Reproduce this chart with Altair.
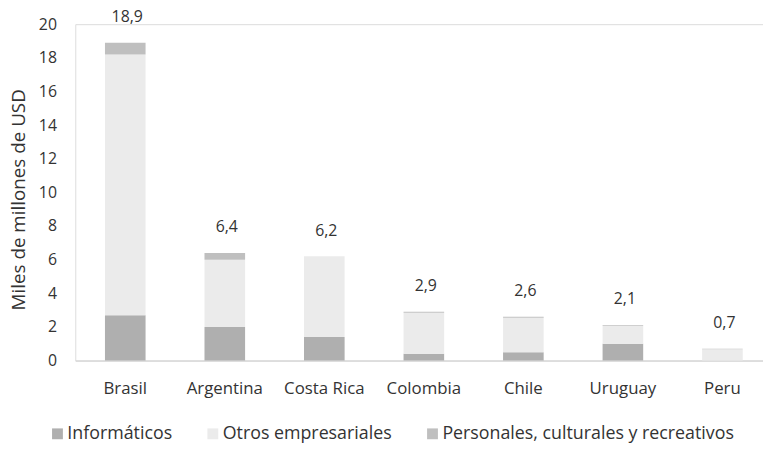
import altair as alt
import pandas as pd

countries = ["Brasil", "Argentina", "Costa Rica", "Colombia", "Chile", "Uruguay", "Peru"]
series = ["Informáticos", "Otros empresariales", "Personales, culturales y recreativos"]
informaticos = [2.7, 2.0, 1.4, 0.4, 0.5, 1.0, 0.0]
otros = [15.5, 4.0, 4.8, 2.45, 2.05, 1.05, 0.67]
personales = [0.7, 0.4, 0.0, 0.05, 0.05, 0.05, 0.03]
totals = [18.9, 6.4, 6.2, 2.9, 2.6, 2.1, 0.7]
colors = ["#afafaf", "#ebebeb", "#bfbfbf"]
y_ticks = [0, 2, 4, 6, 8, 10, 12, 14, 16, 18, 20]

rows = []
for i, c in enumerate(countries):
    for k, (s, vals) in enumerate(zip(series, [informaticos, otros, personales])):
        rows.append({"pais": c, "serie": s, "valor": vals[i], "orden": k})
df = pd.DataFrame(rows)
tot = pd.DataFrame({"pais": countries, "total": totals})

FONT = "Open Sans"
TXT = "#333333"

xscale = alt.Scale(paddingInner=0.592, paddingOuter=0.251, align=0.594)
xaxis = alt.Axis(labelAngle=0, labelFont=FONT, labelFontSize=17, labelColor=TXT,
                 ticks=False, labelPadding=20, domainColor="#d9d9d9", domainWidth=1.5)
yscale = alt.Scale(domain=[0, 20], nice=False)
yaxis = alt.Axis(values=y_ticks, grid=False, domain=False, ticks=False,
                 labelOverlap=False,
                 labelFont=FONT, labelFontSize=16, labelColor=TXT, labelPadding=19,
                 title="Miles de millones de USD", titleFont=FONT, titleFontSize=19,
                 titleFontWeight="normal", titleColor=TXT, titleX=-57, titleY=177,
                 titleAngle=270, titleAlign="center", titleBaseline="middle")

bars = alt.Chart(df).mark_bar().encode(
    x=alt.X("pais:N", sort=countries, title=None, scale=xscale, axis=xaxis),
    y=alt.Y("valor:Q", stack="zero", title="Miles de millones de USD", scale=yscale, axis=yaxis),
    color=alt.Color("serie:N", sort=series,
                    scale=alt.Scale(domain=series, range=colors),
                    legend=alt.Legend(title=None, orient="none", direction="horizontal", columns=3,
                                      legendX=-27, legendY=405, symbolType="square", symbolSize=120,
                                      symbolStrokeWidth=0, labelFont=FONT, labelFontSize=18,
                                      labelColor=TXT, labelOffset=1, columnPadding=32,
                                      labelLimit=500)),
    order=alt.Order("orden:Q", sort="ascending"),
)

labels = alt.Chart(tot).transform_calculate(
    lab="replace(format(datum.total, '.1f'), '.', ',')"
).mark_text(font=FONT, fontSize=16, color=TXT, baseline="middle", dy=-26, dx=2).encode(
    x=alt.X("pais:N", sort=countries, title=None, scale=xscale, axis=xaxis),
    y=alt.Y("total:Q", title="Miles de millones de USD", scale=yscale, axis=yaxis),
    text="lab:N",
)

chart = alt.layer(bars, labels).properties(
    width=695, height=340,
    autosize=alt.AutoSizeParams(type="none"),
    padding={"left": 68, "top": 14, "right": 0, "bottom": 87},
).configure_view(stroke=None).configure(background="white").configure_axis(labelOverlap=False)

chart.save("out.html", embed_options={"renderer": "svg", "actions": False})
